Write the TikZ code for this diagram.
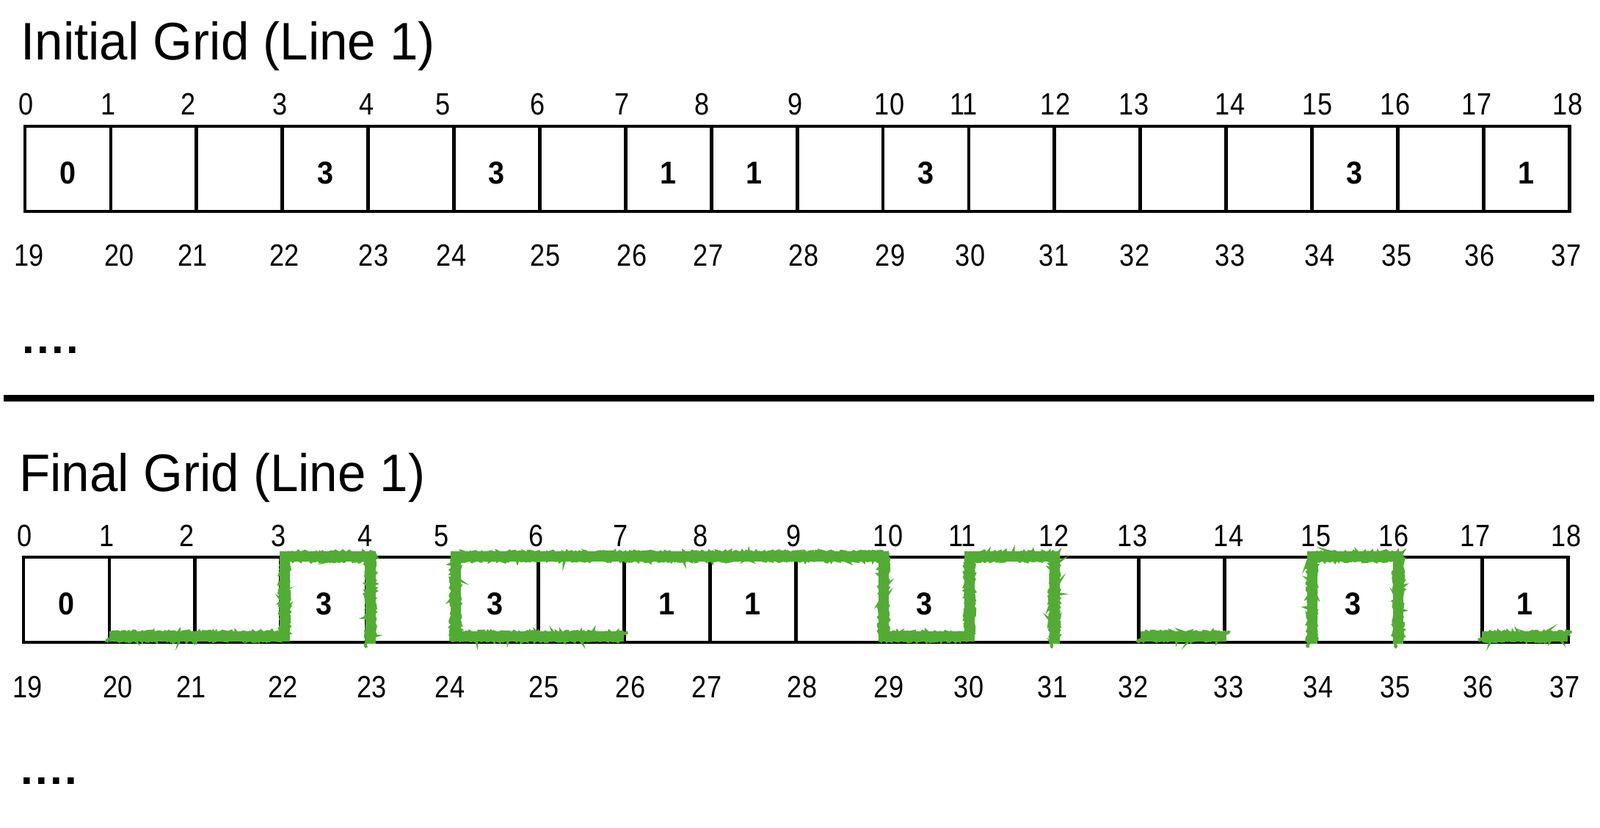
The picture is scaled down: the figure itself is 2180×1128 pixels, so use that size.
\documentclass[tikz,border=0pt]{standalone}
\usepackage{fontspec}
\setmainfont{Liberation Sans}
\newfontfamily\titlefont{Liberation Sans}[FakeStretch=0.96]
\newfontfamily\labfont{Liberation Sans}[FakeStretch=0.86]
\newfontfamily\numfont{Liberation Sans}[FakeStretch=0.92]
\usetikzlibrary{decorations.pathmorphing}
\definecolor{marker}{RGB}{82,172,52}
\tikzset{
 titletext/.style={font=\titlefont\fontsize{36}{40}\selectfont, inner sep=0, anchor=base west},
 labtext/.style={font=\labfont\fontsize{21}{24}\selectfont, inner sep=0, anchor=base},
 numtext/.style={font=\numfont\bfseries\fontsize{21.5}{24}\selectfont, inner sep=0},
 cellbox/.style={draw, line width=2.4pt, minimum width=58.45pt, minimum height=58pt, inner sep=0},
 dotstext/.style={font=\bfseries\fontsize{30}{34}\selectfont, inner sep=0, anchor=base west},
 sepline/.style={line width=4.5pt},
 markerline/.style={draw=marker, line width=7pt, line cap=butt, line join=miter},
 markerrough/.style={draw=marker, line width=2pt, line cap=butt, decorate, decoration={random steps, segment length=1pt, amplitude=1pt}},
}
\newcommand{\gridsection}[2]{%
  \node[titletext] (#1title) at (28,82) {#2};
  \foreach \i in {0,...,17} \node[cellbox] (#1c\i) at ({34+(\i+0.5)*116.9},230) {};
  \foreach \x [count=\k from 0] in {36,148,257,382,500,604,733,848,957,1084,1212,1313,1438,1545,1676,1795,1901,2012,2136}
    \node[labtext] (#1t\k) at (\x,157) {\k};
  \foreach \x [count=\k from 19] in {40,163,263,388,509,615,743,861,965,1095,1213,1322,1436,1546,1676,1798,1903,2016,2134}
    \node[labtext] (#1b\k) at (\x,363) {\k};
  \foreach \i/\v in {0/0,3/3,5/3,7/1,8/1,10/3,15/3,17/1}
    \node[numtext] (#1n\i) at ({34+(\i+0.5)*116.9},236) {\v};
  \node[dotstext] (#1dots) at (30,481) {.\kern1.6pt.\kern1.6pt.\kern1.6pt.};
}
\newcommand{\markpath}[1]{%
  \draw[markerline] #1;
  \draw[markerrough, transform canvas={shift={(2.6pt,2.6pt)}}] #1;
  \draw[markerrough, transform canvas={shift={(-2.6pt,-2.6pt)}}] #1;
}
\begin{document}
\begin{tikzpicture}[x=0.5pt,y=-0.5pt]
\fill[white] (0,0) rectangle (2180,1128);
\useasboundingbox (0,0) rectangle (2180,1128);
\gridsection{i}{Initial Grid (Line 1)}
\coordinate (sepL) at (5,543);
\coordinate (sepR) at (2172,543);
\draw[sepline] (sepL) -- (sepR);
\begin{scope}[shift={(-2,587)}]
\gridsection{f}{Final Grid (Line 1)}
\markpath{({34+1*116.9},280) -- ({34+3*116.9+5},280) -- ({34+3*116.9+5},171) -- ({34+4*116.9+5},171) -- ({34+4*116.9+5},290)}
\markpath{({34+7*116.9},280) -- ({34+5*116.9+4},280) -- ({34+5*116.9+4},171) -- ({34+10*116.9+3},171) -- ({34+10*116.9+3},280) -- ({34+11*116.9+3},280) -- ({34+11*116.9+3},171) -- ({34+12*116.9+2},171) -- ({34+12*116.9+2},290)}
\markpath{({34+13*116.9+2},280) -- ({34+14*116.9+2},280)}
\markpath{({34+15*116.9+2},290) -- ({34+15*116.9+2},171) -- ({34+16*116.9+3},171) -- ({34+16*116.9+3},290)}
\markpath{({34+17*116.9},280) -- ({34+18*116.9},280)}
\end{scope}
\end{tikzpicture}
\end{document}
